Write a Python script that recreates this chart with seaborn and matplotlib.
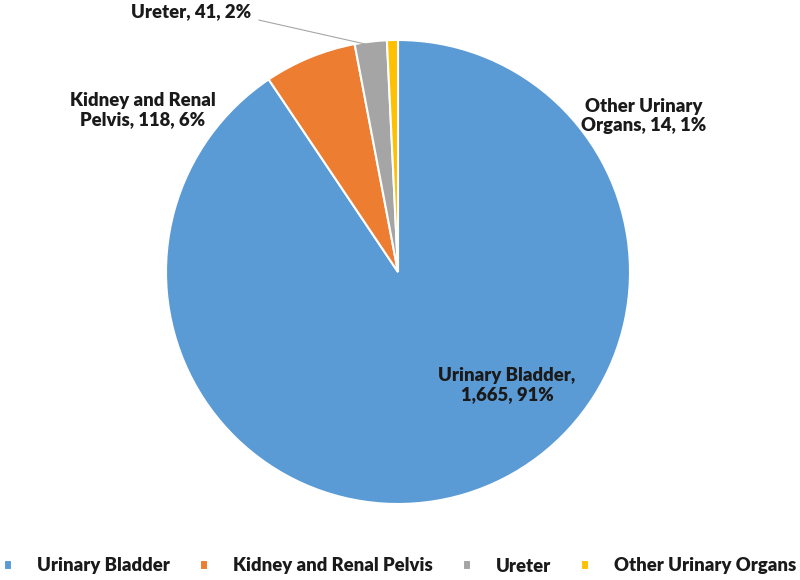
import matplotlib
matplotlib.use("Agg")
import matplotlib.pyplot as plt
import seaborn as sns

categories = ["Urinary Bladder", "Kidney and Renal Pelvis", "Ureter", "Other Urinary Organs"]
values = [1665, 118, 41, 14]
label_names = ["Urinary Bladder,", "Kidney and Renal\nPelvis,", "Ureter,", "Other Urinary\nOrgans,"]
colors_hex = ["#5B9BD5", "#ED7D31", "#A5A5A5", "#FFC000"]

sns.set_theme(style="white")
plt.rcParams['font.family'] = ['Lato', 'DejaVu Sans']

palette = sns.color_palette(colors_hex)

fig = plt.figure(figsize=(8, 5.8), dpi=100)
ax = fig.add_axes([(398 - 232) / 800, (580 - 504) / 580, 464 / 800, 464 / 580])
wedges, _ = ax.pie(values, colors=palette, startangle=90, counterclock=False,
                   wedgeprops=dict(edgecolor="white", linewidth=1.5))
ax.set_aspect("equal")
ax.set_xlim(-1, 1)
ax.set_ylim(-1, 1)

total = sum(values)
texts = []
for n, v in zip(label_names, values):
    pct = round(v / total * 100)
    if "Bladder" in n:
        texts.append(f"{n}\n{v:,}, {pct}%")
    else:
        texts.append(f"{n} {v:,}, {pct}%")

# label positions in pie units (radius = 1)
label_pos = [(0.47, -0.487), (-1.10, 0.698), (-0.892, 1.121), (1.06, 0.672)]
fs = 13.3
W = "heavy"
for t, (x, y) in zip(texts, label_pos):
    ax.text(x, y, t, ha="center", va="center", fontsize=fs, fontweight=W,
            color="#1a1a1a", linespacing=1.2, clip_on=False)

# leader line for Ureter
ax.plot([-0.600, -0.121], [1.086, 0.978], color="#A6A6A6", linewidth=0.8, clip_on=False)

leg = fig.legend(wedges, categories, loc="center", bbox_to_anchor=(0.5, 1 - 566 / 580),
                 ncol=4, frameon=False, handlelength=0.42, handleheight=0.42,
                 handletextpad=1.35, columnspacing=1.65, borderpad=0.1, borderaxespad=0,
                 prop=dict(weight=W, size=fs))
for txt in leg.get_texts():
    txt.set_color("#1a1a1a")

fig.savefig("out.png", dpi=100, facecolor="white")
